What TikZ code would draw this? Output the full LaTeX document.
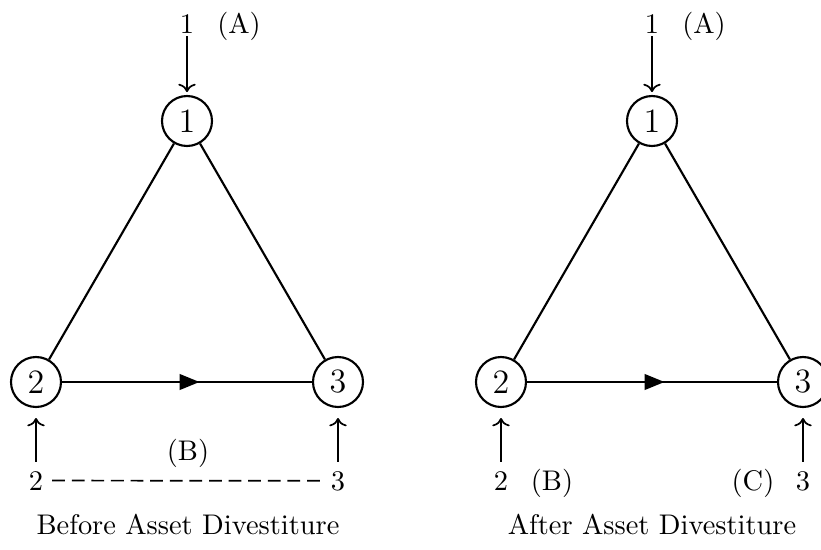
\documentclass[tikz,border=0pt]{standalone}
\usetikzlibrary{arrows.meta,decorations.markings}
\begin{document}
\begin{tikzpicture}[x=0.352pt,y=-0.352pt,
  vtx/.style={circle,draw,line width=0.75pt,minimum size=17.6pt,inner sep=0pt,font=\large},
  lbl/.style={anchor=base,inner sep=1pt},
  src/.style={anchor=base,inner sep=3pt},
  feed/.style={->,line width=0.6pt},
  edge/.style={line width=0.75pt},
  dashlink/.style={line width=0.6pt,dash pattern=on 4.5pt off 2.4pt},
  flow/.style={line width=0.75pt,postaction={decorate},
    decoration={markings,mark=at position 0.55 with {\arrow{Triangle[length=7pt,width=5.5pt]}}}}]
\useasboundingbox (0,0) rectangle (821,550);
% left diagram
\node[vtx] (L1) at (187,121) {1};
\node[vtx] (L2) at (36,382) {2};
\node[vtx] (L3) at (338,382) {3};
\node[lbl] (Lt1) at (187,33) {1};
\node[lbl] (LA) at (239,33) {(A)};
\node[src] (Lb2) at (36,490) {2};
\node[src] (Lb3) at (338,490) {3};
\node[lbl] (LB) at (188,460) {(B)};
\node[lbl] (Lcap) at (188,534) {Before Asset Divestiture};
\draw[edge] (L1) -- (L2);
\draw[edge] (L1) -- (L3);
\draw[flow] (L2) -- (L3);
\draw[feed,shorten >=1pt] (Lt1) -- (L1);
\draw[feed,shorten >=3.5pt] (Lb2) -- (L2);
\draw[feed,shorten >=3.5pt] (Lb3) -- (L3);
\draw[dashlink] (Lb2) -- (Lb3);
% right diagram
\node[vtx] (R1) at (652,121) {1};
\node[vtx] (R2) at (501,382) {2};
\node[vtx] (R3) at (803,382) {3};
\node[lbl] (Rt1) at (652,33) {1};
\node[lbl] (RA) at (704,33) {(A)};
\node[src] (Rb2) at (501,490) {2};
\node[src] (Rb3) at (803,490) {3};
\node[lbl] (RB) at (552,490) {(B)};
\node[lbl] (RC) at (753,490) {(C)};
\node[lbl] (Rcap) at (652,534) {After Asset Divestiture};
\draw[edge] (R1) -- (R2);
\draw[edge] (R1) -- (R3);
\draw[flow] (R2) -- (R3);
\draw[feed,shorten >=1pt] (Rt1) -- (R1);
\draw[feed,shorten >=3.5pt] (Rb2) -- (R2);
\draw[feed,shorten >=3.5pt] (Rb3) -- (R3);
\end{tikzpicture}
\end{document}
